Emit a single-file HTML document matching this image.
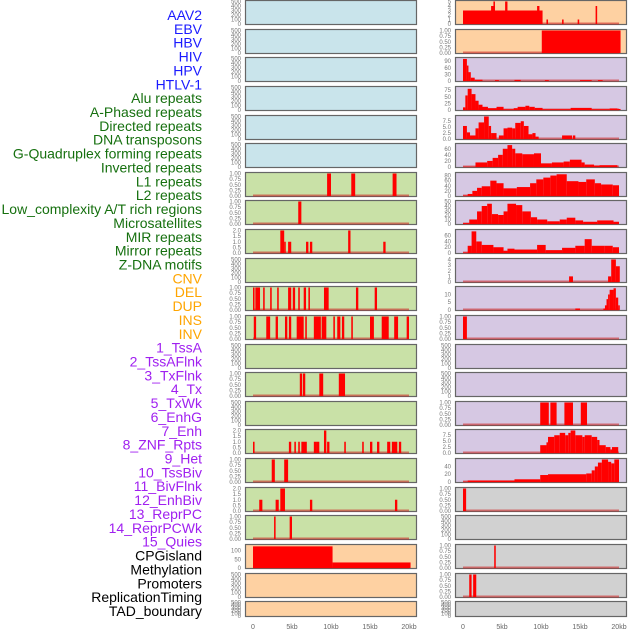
<!DOCTYPE html>
<html><head><meta charset="utf-8">
<style>
body{margin:0;background:#fff;width:630px;height:630px;overflow:hidden;font-family:"Liberation Sans",sans-serif}
svg{display:block}
</style></head>
<body>
<svg id="chart" width="630" height="630" viewBox="0 0 630 630" xmlns="http://www.w3.org/2000/svg"></svg>
<script>
// ---- labels ----
const trackLabels = ["AAV2","EBV","HBV","HIV","HPV","HTLV-1","Alu repeats","A-Phased repeats","Directed repeats","DNA transposons","G-Quadruplex forming repeats","Inverted repeats","L1 repeats","L2 repeats","Low_complexity A/T rich regions","Microsatellites","MIR repeats","Mirror repeats","Z-DNA motifs","CNV","DEL","DUP","INS","INV","1_TssA","2_TssAFlnk","3_TxFlnk","4_Tx","5_TxWk","6_EnhG","7_Enh","8_ZNF_Rpts","9_Het","10_TssBiv","11_BivFlnk","12_EnhBiv","13_ReprPC","14_ReprPCWk","15_Quies","CPGisland","Methylation","Promoters","ReplicationTiming","TAD_boundary"];
const labelGroups = [6,13,5,15,5];
const groupColors = ["#1a1aff","#16700f","#ffa500","#a020f0","#000000"];
const xTickLabels = ["0","5kb","10kb","15kb","20kb"];
const xTickValues = [0,5,10,15,20];

// ---- tick sets ----
const ticksEmpty = ["0","100","200","300","400","500"];
const ticksUnit = ["0.00","0.25","0.50","0.75","1.00"];
const ticksTwo = ["0.0","0.5","1.0","1.5","2.0"];

// ---- left column data: [startKb, endKb, value] ----
const L_L1 = [[9.5,10.0,1],[12.6,13.1,1],[17.9,18.4,1]];
const L_L2 = [[5.8,6.2,1]];
const L_LowCx = [[3.5,4.0,2],[4.0,4.2,1],[4.5,4.9,1],[6.8,7.1,1],[7.3,7.6,1],[12.2,12.5,2],[16.7,17.0,1]];
const L_MIR = [[0,0.2,1],[0.3,0.9,1],[1.3,1.5,1],[2.2,2.4,1],[3.1,3.3,1],[4.5,4.9,1],[5.1,5.4,1],[5.8,6.0,1],[6.5,6.8,1],[7.1,7.3,1],[9.1,9.7,1],[13.2,13.5,1],[15.6,15.9,1]];
const L_Mirror = [[0.1,0.4,1],[1.7,2.2,1],[2.9,3.2,1],[4.1,4.4,1],[4.6,4.9,1],[5.6,6.5,1],[6.7,6.9,1],[7.8,8.7,1],[8.8,9.4,1],[10.3,10.5,1],[10.8,11.2,1],[11.4,11.7,1],[12.6,12.8,1],[15.0,15.5,1],[16.5,17.4,1],[18.1,18.6,1],[19.7,20.0,1]];
const L_CNV = [[6.0,6.3,1],[6.4,6.7,1],[8.5,9.0,1],[11.0,11.8,1]];
const L_INS = [[0,0.2,1],[4.6,4.9,1],[5.3,5.5,1],[5.8,6.0,1],[6.2,6.9,1],[7.8,8.2,1],[8.2,8.5,1],[9.1,9.4,2],[9.5,9.8,1],[11.7,11.9,1],[14.0,14.2,1],[15.0,15.3,1],[15.9,16.2,1],[17.2,17.6,1],[17.8,18.5,1],[18.7,19.0,1]];
const L_INV = [[2.4,2.8,1],[4.0,4.5,1]];
const L_TssA = [[0.8,1.2,1],[2.9,3.3,1],[3.5,4.1,2],[7.3,7.6,1],[18.2,18.5,1]];
const L_Row18 = [[2.7,2.9,1],[4.7,5.0,1]];
const L_CpG = [[0,10.2,125],[10.2,20.2,32]];

// ---- right column data ----
const R_AAV2 = [[0,10.2,3],[3.6,4.1,4],[3.9,4.1,5],[5.4,5.7,5],[9.5,9.8,4],[10.7,10.9,1],[12.7,12.9,1],[14.7,14.9,1],[17.0,17.2,4]];
const R_EBV = [[10.1,20.2,1]];
const R_HBV = [[0,0.5,100],[0.5,0.7,70],[0.7,1.0,40],[1.0,1.5,15],[1.5,2.5,6],[4.1,4.6,4],[6.6,7.4,5],[10.5,11.0,4],[15.0,16.5,4],[17.3,17.9,4]];
const R_HIV = [[0,0.3,10],[0.3,0.6,55],[0.6,1.1,80],[1.1,1.6,60],[1.6,2.0,35],[2.0,2.5,20],[2.5,3.2,12],[3.2,4.3,7],[4.3,5.2,12],[5.2,6.5,3],[6.5,7,7],[7,8,12],[8,8.5,16],[8.5,9.2,12],[9.2,10.2,8],[10.2,13.8,3],[13.8,16.5,8],[16.5,18.8,3],[18.8,19.8,6],[19.8,20.2,4]];
const R_HPV = [[0,0.5,5.5],[0.5,0.9,2.8],[0.9,1.6,1.5],[1.6,2.0,4.5],[2.0,2.7,7.0],[2.7,3.3,9.5],[3.3,3.6,5.5],[3.6,4.3,2.5],[4.6,5.2,1.5],[5.2,5.7,4.5],[5.7,6.3,4.8],[6.3,6.7,4.5],[6.7,7.4,6.8],[7.4,7.8,7.5],[7.8,8.4,5.5],[8.4,8.9,2.0],[8.9,9.3,2.5],[9.3,9.7,1.0],[12.7,14.0,1.5],[14.1,14.4,1.5]];
const R_HTLV = [[0,1.6,1],[1.6,3.1,15],[3.1,3.8,20],[3.8,4.5,30],[4.5,5.1,40],[5.1,5.7,60],[5.7,6.3,72],[6.3,6.7,60],[6.7,7.6,45],[7.6,9.1,42],[9.1,10.0,45],[10.0,11.4,12],[11.4,12.9,15],[12.9,13.7,18],[13.7,15.2,24],[15.2,15.6,15],[15.6,16.8,8],[16.8,17.5,5],[17.5,19.8,6]];
const R_Alu = [[0,0.6,2],[0.6,1.2,8],[1.2,1.8,20],[1.8,2.4,32],[2.4,3.5,38],[3.5,4.3,60],[4.3,5.2,50],[5.2,6.9,30],[6.9,8.6,35],[8.6,9.4,50],[9.4,10.3,65],[10.3,11.2,72],[11.2,12.0,80],[12.0,13.3,85],[13.3,14.8,58],[14.8,15.8,55],[15.8,16.9,65],[16.9,17.7,50],[17.7,19.2,45],[19.2,20.0,42]];
const R_APhased = [[0,0.8,2],[0.8,1.8,10],[1.8,2.4,28],[2.4,3.1,40],[3.1,3.7,45],[3.7,4.5,22],[4.5,5.2,20],[5.2,5.7,28],[5.7,6.8,45],[6.8,7.6,42],[7.6,8.7,28],[8.7,9.5,15],[9.5,10.8,10],[10.8,12.4,6],[12.4,13.3,10],[13.3,14.4,14],[14.4,15.4,8],[15.4,17.2,5],[17.2,19.3,8],[19.3,20.0,5]];
const R_Directed = [[0,0.6,2],[0.6,1.1,25],[1.1,1.7,75],[1.7,2.4,40],[2.4,3.9,28],[3.9,5.2,20],[5.2,5.7,8],[5.7,6.6,15],[6.6,9.5,12],[9.5,10.6,28],[10.6,12.7,10],[12.7,14.4,18],[14.4,15.6,25],[15.6,16.5,48],[16.5,18.1,25],[18.1,19.2,25],[19.2,20.0,20]];
const R_DNA = [[13.6,14.1,1],[18.6,19.0,1],[19.0,19.6,4],[19.6,20.1,2.8]];
const R_GQuad = [[14.4,15.0,1],[18.0,18.2,1],[18.2,18.4,3],[18.4,18.6,7],[18.6,18.8,10],[18.8,19.3,13],[19.3,19.6,14],[19.6,19.9,8],[19.9,20.1,3]];
const R_Inverted = [[0,0.5,1]];
const R_Row14 = [[9.9,11.0,1],[11.2,12.0,1],[13.0,14.1,1],[15.1,15.9,1]];
const R_Row15 = [[9.9,10.7,3.3],[10.7,10.9,4.5],[10.9,11.7,6.8],[11.7,12.4,7.5],[12.4,13.1,8.5],[13.1,13.5,7.5],[13.5,13.8,8.5],[13.8,14.4,9.5],[14.4,15.3,7.5],[15.3,15.6,6.8],[15.6,16.5,7.5],[16.5,17.2,6.8],[17.2,17.5,5.5],[17.5,18.3,3.3],[18.3,18.9,2.5],[18.9,19.1,1.5],[19.1,19.9,2.5]];
const R_Row16 = [[0,0.6,1],[0.6,6.6,4],[6.6,9.9,7],[9.9,10.9,18],[10.9,15.8,20],[15.8,16.5,22],[16.5,16.9,30],[16.9,17.3,40],[17.3,17.8,50],[17.8,18.6,58],[18.6,19.0,52],[19.0,19.4,48],[19.4,20.0,58]];
const R_Row17 = [[0,0.4,1]];
const R_Row19 = [[4.0,4.2,1]];
const R_Row20 = [[0.8,1.1,1],[1.3,1.7,1]];

const BG = {b:"#c9e4eb",g:"#c9e1a7",o:"#fed1a2",p:"#d6c8e3",y:"#d1d1d1"};
const panels = [
 [0,0,"b",500,ticksEmpty,null,null,"aav2-left"],[0,1,"b",500,ticksEmpty,null,null,"ebv-left"],[0,2,"b",500,ticksEmpty,null,null,"hbv-left"],
 [0,3,"b",500,ticksEmpty,null,null,"hiv-left"],[0,4,"b",500,ticksEmpty,null,null,"hpv-left"],[0,5,"b",500,ticksEmpty,null,null,"htlv-left"],
 [0,6,"g",1,ticksUnit,null,L_L1,"l1-left"],[0,7,"g",1,ticksUnit,null,L_L2,"l2-left"],[0,8,"g",2,ticksTwo,null,L_LowCx,"lowcx-left"],
 [0,9,"g",500,ticksEmpty,null,null,"microsat-left"],[0,10,"g",1,ticksUnit,null,L_MIR,"mir-left"],[0,11,"g",1,ticksUnit,null,L_Mirror,"mirror-left"],
 [0,12,"g",500,ticksEmpty,null,null,"zdna-left"],[0,13,"g",1,ticksUnit,null,L_CNV,"cnv-left"],[0,14,"g",500,ticksEmpty,null,null,"del-left"],
 [0,15,"g",2,ticksTwo,null,L_INS,"ins-left"],[0,16,"g",1,ticksUnit,null,L_INV,"inv-left"],[0,17,"g",2,ticksTwo,null,L_TssA,"tssa-left"],
 [0,18,"g",1,ticksUnit,null,L_Row18,"row18-left"],[0,19,"o",130,["0","50","100"],null,L_CpG,"cpg-left"],
 [0,20,"o",500,ticksEmpty,null,null,"row20-left"],[0,21,"o",500,ticksEmpty,null,null,"row21-left"],
 [1,0,"o",5,["0","1","2","3","4","5"],null,R_AAV2,"aav2-right"],[1,1,"o",1,ticksUnit,null,R_EBV,"ebv-right"],
 [1,2,"p",102,["0","30","60","90"],null,R_HBV,"hbv-right"],[1,3,"p",85,["0","25","50","75"],null,R_HIV,"hiv-right"],
 [1,4,"p",9.5,["0.0","2.5","5.0","7.5"],null,R_HPV,"hpv-right"],[1,5,"p",74,["0","20","40","60"],null,R_HTLV,"htlv-right"],
 [1,6,"p",88,["0","20","40","60","80"],null,R_Alu,"alu-right"],[1,7,"p",50,["0","10","20","30","40","50"],null,R_APhased,"aphased-right"],
 [1,8,"p",78,["0","20","40","60"],null,R_Directed,"directed-right"],[1,9,"p",4,["0","1","2","3","4"],null,R_DNA,"dna-right"],
 [1,10,"p",14.5,["0","5","10"],null,R_GQuad,"gquad-right"],[1,11,"p",1,ticksUnit,null,R_Inverted,"inverted-right"],
 [1,12,"p",500,ticksEmpty,null,null,"row12-right"],[1,13,"p",500,ticksEmpty,null,null,"row13-right"],
 [1,14,"p",1,ticksUnit,null,R_Row14,"row14-right"],[1,15,"p",9.5,["0.0","2.5","5.0","7.5"],null,R_Row15,"row15-right"],
 [1,16,"p",58,["0","20","40"],null,R_Row16,"row16-right"],[1,17,"y",1,ticksUnit,null,R_Row17,"row17-right"],
 [1,18,"y",500,ticksEmpty,null,null,"row18-right"],[1,19,"y",1,ticksUnit,null,R_Row19,"row19-right"],
 [1,20,"y",1,ticksUnit,null,R_Row20,"row20-right"],[1,21,"y",500,ticksEmpty,null,null,"row21-right"]
];

const NS="http://www.w3.org/2000/svg";
const svg=document.getElementById("chart");
function mk(tag,attrs,parent){const e=document.createElementNS(NS,tag);for(const k in attrs)e.setAttribute(k,attrs[k]);(parent||svg).appendChild(e);return e;}
const colBox=[[245,416],[455,626]];
const colX0=[253,463];
const KB=7.8;
function xScale(col,kb){return colX0[col]+kb*KB;}
function rowTop(r){return Math.round(r*28.63);}
function rowH(r){return r===21?16:25;}
function yScale(r,ymax,v){const t=rowTop(r),h=rowH(r);const y0=t+h-1,y1=t+1.5;return y0-(v/ymax)*(y0-y1);}

let li=0;
labelGroups.forEach((n,g)=>{for(let k=0;k<n;k++){const t=mk("text",{x:202,y:15+li*13.86+5,"text-anchor":"end","font-size":"14",fill:groupColors[g]});


t.textContent=trackLabels[li];li++;}});

panels.forEach(p=>{
 const [col,row,bg,ymax,ticks,tv,data,name]=p;
 const g=mk("g",{});
 
 
 const t=rowTop(row),h=rowH(row);
 const bx=colBox[col][0],bw=colBox[col][1]-bx;
 mk("rect",{x:bx+0.5,y:t+0.5,width:bw,height:h-1,fill:BG[bg],stroke:"#666","stroke-width":1.2},g);
 const tx=bx-4;
 ticks.forEach((lab,i)=>{
   const v=ymax===500?i*100:parseFloat(lab);
   const tt=mk("text",{x:tx,y:yScale(row,ymax,v)+2,"text-anchor":"end","font-size":"6",fill:"#777"},g);
   
   
   tt.textContent=lab;
 });
 if(data){
   const base=mk("rect",{x:xScale(col,0),y:yScale(row,ymax,0)-1.5,width:20*KB,height:2,fill:"rgba(205,30,30,0.55)"},g);
   
   
   data.forEach(d=>{
     const x1=xScale(col,d[0]),x2=xScale(col,d[1]);
     const y=yScale(row,ymax,d[2]),y0=yScale(row,ymax,0);
     const r=mk("rect",{x:x1,y:y,width:Math.max(1.5,x2-x1),height:y0-y,fill:"#ff0000"},g);
     
     
   });
 }
});

[0,1].forEach(col=>{
 xTickValues.forEach((v,i)=>{
   const t=mk("text",{x:xScale(col,v),y:629,"text-anchor":"middle","font-size":"7",fill:"#666"});
   
   
   t.textContent=xTickLabels[i];
 });
});
</script>
</body></html>
